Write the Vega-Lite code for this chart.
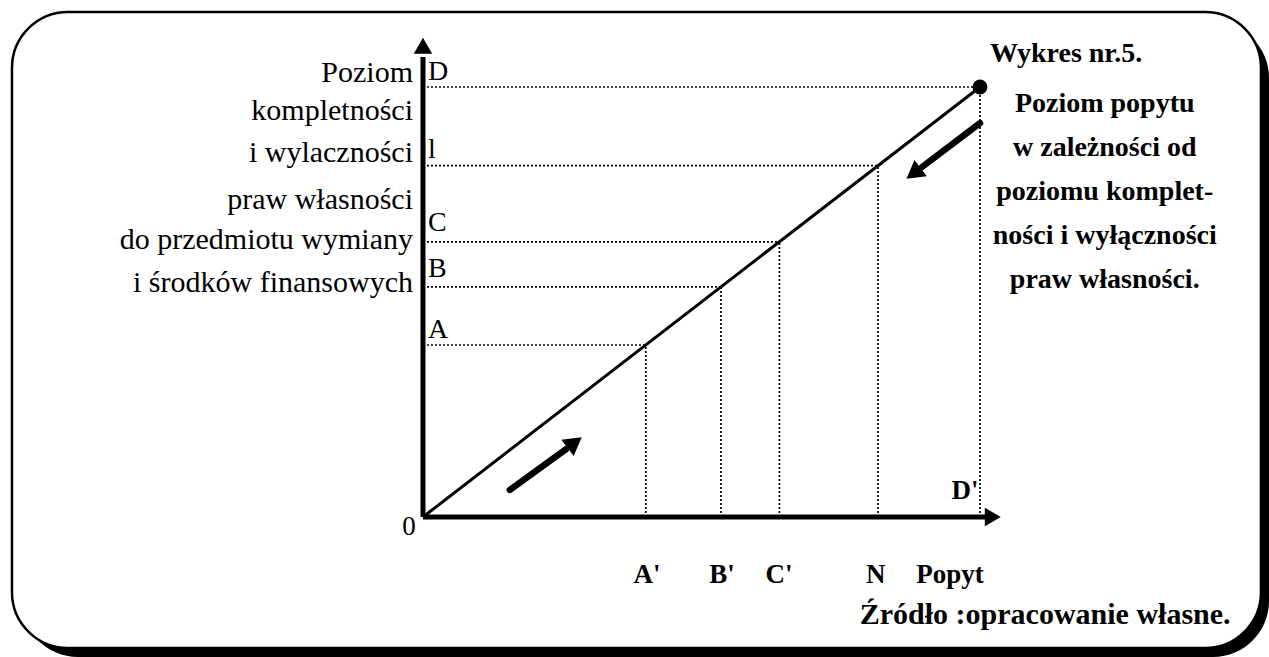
{
  "$schema": "https://vega.github.io/schema/vega-lite/v6.json",
  "width": 1269,
  "height": 657,
  "padding": 0,
  "autosize": {"type": "fit", "contains": "padding"},
  "background": "white",
  "config": {"view": {"stroke": null}, "font": "Liberation Serif"},
  "datasets": {
    "shadow": [{"x1": -72.0, "x2": 151.89, "y1": 115.1, "y2": -32.56}],
    "frame": [{"x1": -73.79, "x2": 150.45, "y1": 117.44, "y2": -30.47}],
    "guides": [
      {"x": 0, "y": 40, "x2": 40, "y2": 40},
      {"x": 0, "y": 53.5, "x2": 53.5, "y2": 53.5},
      {"x": 0, "y": 64, "x2": 64, "y2": 64},
      {"x": 0, "y": 81.7, "x2": 81.7, "y2": 81.7},
      {"x": 0, "y": 100, "x2": 100, "y2": 100},
      {"x": 40, "y": 0, "x2": 40, "y2": 40},
      {"x": 53.5, "y": 0, "x2": 53.5, "y2": 53.5},
      {"x": 64, "y": 0, "x2": 64, "y2": 64},
      {"x": 81.7, "y": 0, "x2": 81.7, "y2": 81.7},
      {"x": 100, "y": 0, "x2": 100, "y2": 100}
    ],
    "diag": [{"x": 0, "y": 0, "x2": 100, "y2": 100}],
    "axes": [
      {"x": 0, "y": 0, "x2": 0, "y2": 107},
      {"x": 0, "y": 0, "x2": 101, "y2": 0}
    ],
    "yhead": [{"x": 0, "y": 109.6}],
    "xhead": [{"x": 102.3, "y": 0}],
    "arrows": [
      {"x": 15.6, "y": 6.3, "x2": 25.7, "y2": 15.8},
      {"x": 100, "y": 91.6, "x2": 89.6, "y2": 81.4}
    ],
    "uphead": [{"x": 26.8, "y": 16.9}],
    "downhead": [{"x": 88.5, "y": 80.3}],
    "dot": [{"x": 100, "y": 100}],
    "leftlab": [
      {"t": "Poziom", "y": 103.3},
      {"t": "kompletności", "y": 94.4},
      {"t": "i wylaczności", "y": 84.7},
      {"t": "praw własności", "y": 73.7},
      {"t": "do przedmiotu wymiany", "y": 64.4},
      {"t": "i środków finansowych", "y": 54.4}
    ],
    "ylet": [
      {"t": "D", "y": 103.5},
      {"t": "l", "y": 85.3},
      {"t": "C", "y": 68.4},
      {"t": "B", "y": 57.7},
      {"t": "A", "y": 43.5}
    ],
    "zero": [{"t": "0", "x": -2.5, "y": -2.3}],
    "xlab": [
      {"t": "A'", "x": 40.2, "y": -13.5},
      {"t": "B'", "x": 53.7, "y": -13.5},
      {"t": "C'", "x": 63.9, "y": -13.5},
      {"t": "N", "x": 81.3, "y": -13.5},
      {"t": "Popyt", "x": 94.6, "y": -13.5},
      {"t": "D'", "x": 97.3, "y": 6.0}
    ],
    "title": [{"t": "Wykres nr.5.", "x": 101.8, "y": 107.6}],
    "desc": [
      {"t": "Poziom popytu", "y": 96.0},
      {"t": "w zależności od", "y": 85.8},
      {"t": "poziomu komplet-", "y": 75.6},
      {"t": "ności i wyłączności", "y": 65.3},
      {"t": "praw własności.", "y": 55.1}
    ],
    "source": [{"t": "Źródło :opracowanie własne.", "x": 111.7, "y": -22.8}]
  },
  "layer": [
    {
      "data": {"name": "shadow"},
      "mark": {"type": "rect", "color": "black", "cornerRadius": 56},
      "encoding": {
        "x": {"field": "x1", "type": "quantitative", "scale": {"domain": [-75.94, 151.89], "nice": false, "zero": false}, "axis": null},
        "x2": {"field": "x2"},
        "y": {"field": "y1", "type": "quantitative", "scale": {"domain": [-32.56, 120.23], "nice": false, "zero": false}, "axis": null},
        "y2": {"field": "y2"}
      }
    },
    {
      "data": {"name": "frame"},
      "mark": {"type": "rect", "fill": "white", "stroke": "black", "strokeWidth": 2.5, "cornerRadius": 56},
      "encoding": {
        "x": {"field": "x1", "type": "quantitative", "scale": {"domain": [-75.94, 151.89], "nice": false, "zero": false}, "axis": null},
        "x2": {"field": "x2"},
        "y": {"field": "y1", "type": "quantitative", "scale": {"domain": [-32.56, 120.23], "nice": false, "zero": false}, "axis": null},
        "y2": {"field": "y2"}
      }
    },
    {
      "data": {"name": "guides"},
      "mark": {"type": "rule", "color": "black", "strokeWidth": 1.7, "strokeDash": [2, 2]},
      "encoding": {
        "x": {"field": "x", "type": "quantitative", "scale": {"domain": [-75.94, 151.89], "nice": false, "zero": false}, "axis": null},
        "x2": {"field": "x2"},
        "y": {"field": "y", "type": "quantitative", "scale": {"domain": [-32.56, 120.23], "nice": false, "zero": false}, "axis": null},
        "y2": {"field": "y2"}
      }
    },
    {
      "data": {"name": "diag"},
      "mark": {"type": "rule", "color": "black", "strokeWidth": 3},
      "encoding": {
        "x": {"field": "x", "type": "quantitative", "scale": {"domain": [-75.94, 151.89], "nice": false, "zero": false}, "axis": null},
        "x2": {"field": "x2"},
        "y": {"field": "y", "type": "quantitative", "scale": {"domain": [-32.56, 120.23], "nice": false, "zero": false}, "axis": null},
        "y2": {"field": "y2"}
      }
    },
    {
      "data": {"name": "axes"},
      "mark": {"type": "rule", "color": "black", "strokeWidth": 5},
      "encoding": {
        "x": {"field": "x", "type": "quantitative", "scale": {"domain": [-75.94, 151.89], "nice": false, "zero": false}, "axis": null},
        "x2": {"field": "x2"},
        "y": {"field": "y", "type": "quantitative", "scale": {"domain": [-32.56, 120.23], "nice": false, "zero": false}, "axis": null},
        "y2": {"field": "y2"}
      }
    },
    {
      "data": {"name": "yhead"},
      "mark": {"type": "point", "shape": "triangle-up", "filled": true, "color": "black", "opacity": 1, "size": 340},
      "encoding": {
        "x": {"field": "x", "type": "quantitative", "scale": {"domain": [-75.94, 151.89], "nice": false, "zero": false}, "axis": null},
        "y": {"field": "y", "type": "quantitative", "scale": {"domain": [-32.56, 120.23], "nice": false, "zero": false}, "axis": null}
      }
    },
    {
      "data": {"name": "xhead"},
      "mark": {"type": "point", "shape": "triangle-right", "filled": true, "color": "black", "opacity": 1, "size": 340},
      "encoding": {
        "x": {"field": "x", "type": "quantitative", "scale": {"domain": [-75.94, 151.89], "nice": false, "zero": false}, "axis": null},
        "y": {"field": "y", "type": "quantitative", "scale": {"domain": [-32.56, 120.23], "nice": false, "zero": false}, "axis": null}
      }
    },
    {
      "data": {"name": "arrows"},
      "mark": {"type": "rule", "color": "black", "strokeWidth": 6.5, "strokeCap": "round"},
      "encoding": {
        "x": {"field": "x", "type": "quantitative", "scale": {"domain": [-75.94, 151.89], "nice": false, "zero": false}, "axis": null},
        "x2": {"field": "x2"},
        "y": {"field": "y", "type": "quantitative", "scale": {"domain": [-32.56, 120.23], "nice": false, "zero": false}, "axis": null},
        "y2": {"field": "y2"}
      }
    },
    {
      "data": {"name": "uphead"},
      "mark": {"type": "point", "shape": "triangle", "angle": 53, "filled": true, "color": "black", "opacity": 1, "size": 420},
      "encoding": {
        "x": {"field": "x", "type": "quantitative", "scale": {"domain": [-75.94, 151.89], "nice": false, "zero": false}, "axis": null},
        "y": {"field": "y", "type": "quantitative", "scale": {"domain": [-32.56, 120.23], "nice": false, "zero": false}, "axis": null}
      }
    },
    {
      "data": {"name": "downhead"},
      "mark": {"type": "point", "shape": "triangle", "angle": 233, "filled": true, "color": "black", "opacity": 1, "size": 420},
      "encoding": {
        "x": {"field": "x", "type": "quantitative", "scale": {"domain": [-75.94, 151.89], "nice": false, "zero": false}, "axis": null},
        "y": {"field": "y", "type": "quantitative", "scale": {"domain": [-32.56, 120.23], "nice": false, "zero": false}, "axis": null}
      }
    },
    {
      "data": {"name": "dot"},
      "mark": {"type": "point", "shape": "circle", "filled": true, "color": "black", "opacity": 1, "size": 220},
      "encoding": {
        "x": {"field": "x", "type": "quantitative", "scale": {"domain": [-75.94, 151.89], "nice": false, "zero": false}, "axis": null},
        "y": {"field": "y", "type": "quantitative", "scale": {"domain": [-32.56, 120.23], "nice": false, "zero": false}, "axis": null}
      }
    },
    {
      "data": {"name": "leftlab"},
      "mark": {"type": "text", "align": "right", "baseline": "middle", "fontSize": 30, "font": "Liberation Serif", "color": "black", "x": 413},
      "encoding": {
        "y": {"field": "y", "type": "quantitative", "scale": {"domain": [-32.56, 120.23], "nice": false, "zero": false}, "axis": null},
        "text": {"field": "t"}
      }
    },
    {
      "data": {"name": "ylet"},
      "mark": {"type": "text", "align": "left", "baseline": "middle", "fontSize": 28, "font": "Liberation Serif", "color": "black", "dx": 5},
      "encoding": {
        "x": {"datum": 0, "type": "quantitative", "scale": {"domain": [-75.94, 151.89], "nice": false, "zero": false}, "axis": null},
        "y": {"field": "y", "type": "quantitative", "scale": {"domain": [-32.56, 120.23], "nice": false, "zero": false}, "axis": null},
        "text": {"field": "t"}
      }
    },
    {
      "data": {"name": "zero"},
      "mark": {"type": "text", "align": "center", "baseline": "middle", "fontSize": 27, "font": "Liberation Serif", "color": "black"},
      "encoding": {
        "x": {"field": "x", "type": "quantitative", "scale": {"domain": [-75.94, 151.89], "nice": false, "zero": false}, "axis": null},
        "y": {"field": "y", "type": "quantitative", "scale": {"domain": [-32.56, 120.23], "nice": false, "zero": false}, "axis": null},
        "text": {"field": "t"}
      }
    },
    {
      "data": {"name": "xlab"},
      "mark": {"type": "text", "align": "center", "baseline": "middle", "fontSize": 27, "fontWeight": "bold", "font": "Liberation Serif", "color": "black"},
      "encoding": {
        "x": {"field": "x", "type": "quantitative", "scale": {"domain": [-75.94, 151.89], "nice": false, "zero": false}, "axis": null},
        "y": {"field": "y", "type": "quantitative", "scale": {"domain": [-32.56, 120.23], "nice": false, "zero": false}, "axis": null},
        "text": {"field": "t"}
      }
    },
    {
      "data": {"name": "title"},
      "mark": {"type": "text", "align": "left", "baseline": "middle", "fontSize": 28, "fontWeight": "bold", "font": "Liberation Serif", "color": "black"},
      "encoding": {
        "x": {"field": "x", "type": "quantitative", "scale": {"domain": [-75.94, 151.89], "nice": false, "zero": false}, "axis": null},
        "y": {"field": "y", "type": "quantitative", "scale": {"domain": [-32.56, 120.23], "nice": false, "zero": false}, "axis": null},
        "text": {"field": "t"}
      }
    },
    {
      "data": {"name": "desc"},
      "mark": {"type": "text", "align": "center", "baseline": "middle", "fontSize": 28, "fontWeight": "bold", "font": "Liberation Serif", "color": "black"},
      "encoding": {
        "x": {"datum": 122.4, "type": "quantitative", "scale": {"domain": [-75.94, 151.89], "nice": false, "zero": false}, "axis": null},
        "y": {"field": "y", "type": "quantitative", "scale": {"domain": [-32.56, 120.23], "nice": false, "zero": false}, "axis": null},
        "text": {"field": "t"}
      }
    },
    {
      "data": {"name": "source"},
      "mark": {"type": "text", "align": "center", "baseline": "middle", "fontSize": 30, "fontWeight": "bold", "font": "Liberation Serif", "color": "black"},
      "encoding": {
        "x": {"field": "x", "type": "quantitative", "scale": {"domain": [-75.94, 151.89], "nice": false, "zero": false}, "axis": null},
        "y": {"field": "y", "type": "quantitative", "scale": {"domain": [-32.56, 120.23], "nice": false, "zero": false}, "axis": null},
        "text": {"field": "t"}
      }
    }
  ]
}
